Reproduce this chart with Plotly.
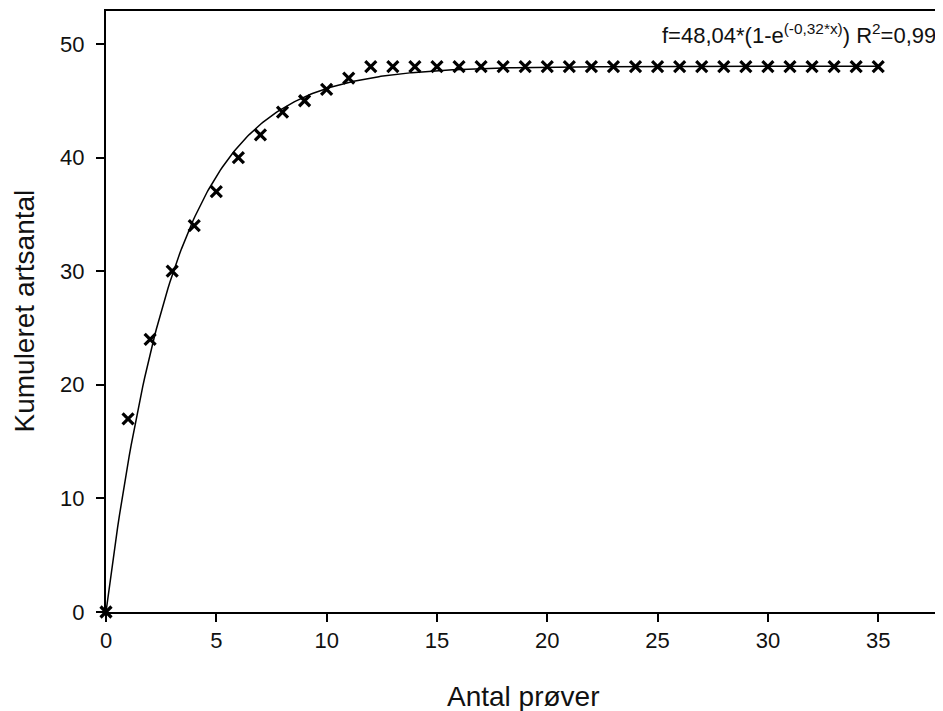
import numpy as np
import plotly.graph_objects as go

# Observed cumulative species counts
samples = list(range(0, 36))
cum_species = [0, 17, 24, 30, 34, 37, 40, 42, 44, 45, 46, 47] + [48] * 24

# Fitted model parameters (from the annotation)
fit_a = 48.04
fit_b = 0.32
fit_label = "f=48,04*(1-e<sup>(-0,32*x)</sup>) R<sup>2</sup>=0,99"

x_title = "Antal prøver"
y_title = "Kumuleret artsantal"
x_ticks = [0, 5, 10, 15, 20, 25, 30, 35]
y_ticks = [0, 10, 20, 30, 40, 50]
x_range = [0, 37.8]
y_range = [0, 52.9]

x_fit = np.linspace(0, 35, 400)
y_fit = fit_a * (1 - np.exp(-fit_b * x_fit))

fig = go.Figure()
fig.add_trace(go.Scatter(x=x_fit, y=y_fit, mode="lines",
                         line=dict(color="black", width=1.5),
                         showlegend=False, hoverinfo="skip"))
fig.add_trace(go.Scatter(x=samples, y=cum_species, mode="markers",
                         marker=dict(symbol="x-thin", size=11,
                                     line=dict(color="black", width=3.2)),
                         cliponaxis=False, showlegend=False))
# carrier for the tick-label axis
fig.add_trace(go.Scatter(x=[None], y=[None], yaxis="y2", mode="markers",
                         showlegend=False, hoverinfo="skip"))

font = dict(family="Liberation Sans, Arial, sans-serif", color="#111111")
tickfont = dict(size=22, **font)

fig.update_layout(
    width=935, height=703,
    margin=dict(l=98, r=1, t=1, b=99),
    paper_bgcolor="white", plot_bgcolor="white",
    font=dict(size=21, **font),
    xaxis=dict(range=x_range, tickvals=x_ticks,
               showgrid=False, zeroline=False, showline=True, linecolor="black",
               linewidth=1.6, mirror=True, ticks="outside", ticklen=8, tickwidth=1.5,
               tickcolor="black", tickfont=tickfont),
    yaxis=dict(range=y_range, tickvals=y_ticks, showticklabels=False,
               showgrid=False, zeroline=False, showline=True, linecolor="black",
               linewidth=1.6, mirror=True, ticks="outside", ticklen=8, tickwidth=1.5,
               tickcolor="black"),
    yaxis2=dict(range=y_range, tickvals=y_ticks, overlaying="y", side="left",
                showgrid=False, zeroline=False, showline=False,
                ticks="outside", ticklen=16, tickcolor="rgba(0,0,0,0)",
                tickfont=tickfont),
    annotations=[
        dict(text=fit_label, x=0.9975, y=0.988, xref="paper", yref="paper",
             xanchor="right", yanchor="top", showarrow=False,
             font=dict(size=22, **font)),
        dict(text=x_title, x=0.5, y=0, xref="paper", yref="paper",
             xanchor="center", yanchor="middle", yshift=-84, showarrow=False,
             font=dict(size=28, **font)),
        dict(text=y_title, x=0, y=0.5, xref="paper", yref="paper",
             xanchor="center", yanchor="middle", xshift=-82, textangle=-90,
             showarrow=False, font=dict(size=28, **font)),
    ],
)

fig.write_html("out.html")
